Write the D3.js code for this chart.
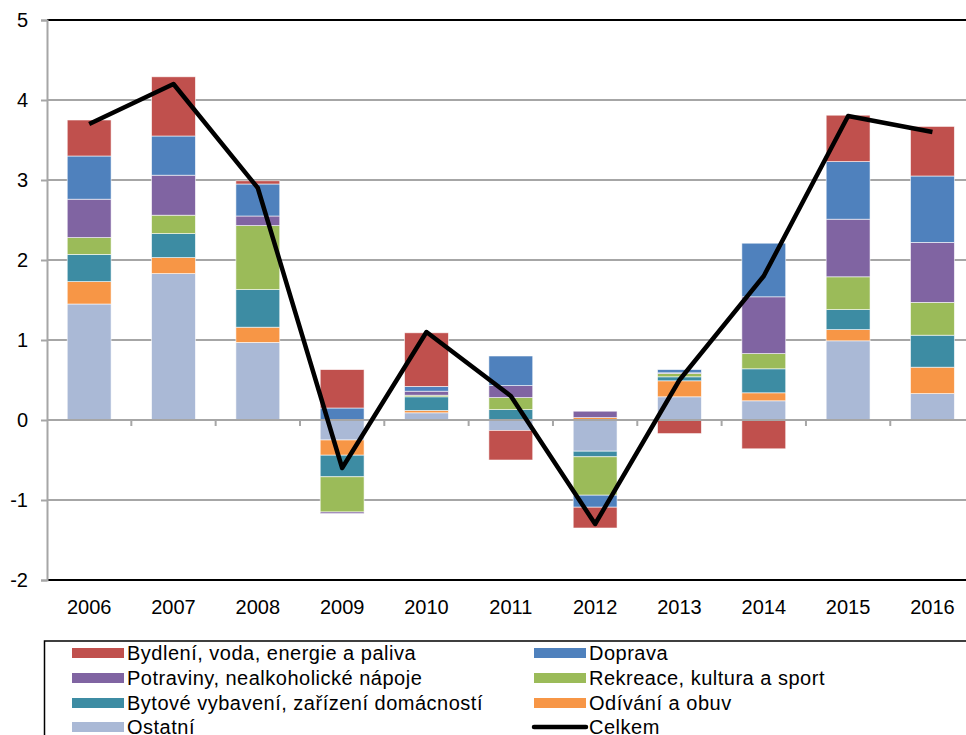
<!DOCTYPE html>
<html>
<head>
<meta charset="utf-8">
<script src="https://cdn.jsdelivr.net/npm/d3@7"></script>
<style>
  body { margin: 0; background: #fff; }
  text { font-family: "Liberation Sans", Arial, sans-serif; fill: #000; }
</style>
</head>
<body>
<div id="chart"></div>
<script>
// data
const years = ["2006", "2007", "2008", "2009", "2010", "2011", "2012", "2013", "2014", "2015", "2016"]
const bydleni   = [0.45, 0.74, 0.04, 0.48, 0.67, -0.37, -0.26, -0.17, -0.36, 0.58, 0.62]
const doprava   = [0.54, 0.49, 0.40, 0.15, 0.06, 0.37, -0.15, 0.04, 0.67, 0.72, 0.83]
const potraviny = [0.48, 0.50, 0.12, -0.02, 0.05, 0.15, 0.08, 0.01, 0.71, 0.72, 0.75]
const rekreace  = [0.21, 0.23, 0.80, -0.44, 0.02, 0.15, -0.48, 0.04, 0.19, 0.41, 0.41]
const bytove    = [0.34, 0.30, 0.47, -0.27, 0.17, 0.13, -0.07, 0.05, 0.30, 0.25, 0.40]
const odivani   = [0.28, 0.20, 0.19, -0.19, 0.03, 0.00, 0.03, 0.20, 0.10, 0.14, 0.33]
const ostatni   = [1.45, 1.83, 0.97, -0.25, 0.09, -0.13, -0.39, 0.29, 0.24, 0.99, 0.33]
const celkem    = [3.7, 4.2, 2.9, -0.6, 1.1, 0.3, -1.3, 0.5, 1.8, 3.8, 3.6]
const yTicks = [-2, -1, 0, 1, 2, 3, 4, 5]

// stack order, bottom up
const series = [
  { key: "Ostatní", values: ostatni, color: "#AAB9D6" },
  { key: "Odívání a obuv", values: odivani, color: "#F79646" },
  { key: "Bytové vybavení, zařízení domácností", values: bytove, color: "#3D8CA3" },
  { key: "Rekreace, kultura a sport", values: rekreace, color: "#9BBB59" },
  { key: "Potraviny, nealkoholické nápoje", values: potraviny, color: "#8064A2" },
  { key: "Doprava", values: doprava, color: "#4F81BD" },
  { key: "Bydlení, voda, energie a paliva", values: bydleni, color: "#C0504D" }
]

const W = 966, H = 735
const PLOT = { LEFT: 47, RIGHT: 974.6, TOP: 20, BOTTOM: 580 }
const FONT = 20

const svg = d3.select("#chart").append("svg")
  .attr("width", W)
  .attr("height", H)

const table = years.map((y, i) => {
  const row = { year: y }
  series.forEach(s => { row[s.key] = s.values[i] })
  return row
})

const stacked = d3.stack()
  .keys(series.map(s => s.key))
  .order(d3.stackOrderNone)
  .offset(d3.stackOffsetDiverging)(table)

const x = d3.scaleBand()
  .domain(years)
  .range([PLOT.LEFT, PLOT.RIGHT])
  .paddingInner(0.48)
  .paddingOuter(0.24)

const y = d3.scaleLinear()
  .domain([-2, 5])
  .range([PLOT.BOTTOM, PLOT.TOP])

// gridlines
svg.append("g")
  .selectAll("line")
  .data(yTicks.filter(t => t !== -2 && t !== 5 && t !== 0))
  .enter().append("line")
  .attr("x1", PLOT.LEFT).attr("x2", W)
  .attr("y1", d => y(d)).attr("y2", d => y(d))
  .attr("stroke", "#A6A6A6")
  .attr("stroke-width", 2)

// top and bottom border
svg.append("g")
  .selectAll("line")
  .data([5, -2])
  .enter().append("line")
  .attr("x1", PLOT.LEFT).attr("x2", W)
  .attr("y1", d => y(d)).attr("y2", d => y(d))
  .attr("stroke", "#000")
  .attr("stroke-width", 2)

// bars
const layers = svg.append("g")
  .selectAll("g")
  .data(stacked)
  .enter().append("g")
  .attr("fill", (d, i) => series[i].color)

layers.selectAll("rect")
  .data(d => d)
  .enter().append("rect")
  .attr("x", d => x(d.data.year))
  .attr("width", x.bandwidth())
  .attr("y", d => y(Math.max(d[0], d[1])))
  .attr("height", d => Math.abs(y(d[0]) - y(d[1])))
  .attr("stroke", "#fff")
  .attr("stroke-opacity", 0.7)
  .attr("stroke-width", 0.8)

// y axis
const leftAxis = d3.axisLeft(y)
  .tickValues(yTicks)
  .tickFormat(d3.format("d"))
  .tickSize(6)
  .tickPadding(13)
const yAxis = svg.append("g")
  .attr("transform", `translate(${PLOT.LEFT}, 0)`)
  .call(leftAxis)
yAxis.select(".domain").attr("stroke", "#A6A6A6").attr("stroke-width", 2)
yAxis.selectAll(".tick line").attr("stroke", "#A6A6A6").attr("stroke-width", 2)
yAxis.selectAll(".tick text")
  .attr("font-size", FONT)
  .attr("font-family", "Liberation Sans, Arial, sans-serif")
  .text(d => d < 0 ? "-" + Math.abs(d) : d)

// zero line with category ticks
const step = x.step()
svg.append("line")
  .attr("x1", PLOT.LEFT).attr("x2", W)
  .attr("y1", y(0)).attr("y2", y(0))
  .attr("stroke", "#A6A6A6")
  .attr("stroke-width", 2)

svg.append("g")
  .selectAll("line")
  .data(years.slice(0, -1))
  .enter().append("line")
  .attr("x1", d => x(d) + x.bandwidth() / 2 + step / 2)
  .attr("x2", d => x(d) + x.bandwidth() / 2 + step / 2)
  .attr("y1", y(0)).attr("y2", y(0) + 6)
  .attr("stroke", "#A6A6A6")
  .attr("stroke-width", 2)

// category labels
svg.append("g")
  .selectAll("text")
  .data(years)
  .enter().append("text")
  .attr("x", d => x(d) + x.bandwidth() / 2)
  .attr("y", 614)
  .attr("text-anchor", "middle")
  .attr("font-size", FONT)
  .text(d => d)

// total line
const line = d3.line()
  .x((d, i) => x(years[i]) + x.bandwidth() / 2)
  .y(d => y(d))

svg.append("path")
  .datum(celkem)
  .attr("d", line)
  .attr("fill", "none")
  .attr("stroke", "#000")
  .attr("stroke-width", 4.5)
  .attr("stroke-linejoin", "round")

// legend
const legend = svg.append("g")
legend.append("rect")
  .attr("x", 44.5).attr("y", 641)
  .attr("width", 1000).attr("height", 200)
  .attr("fill", "none")
  .attr("stroke", "#000")
  .attr("stroke-width", 1.5)

const legendItems = [
  series[6], series[5], series[4], series[3], series[2], series[1], series[0],
  { key: "Celkem", line: true }
]
const colX = [72, 534], rowY = [653, 678, 703, 727]

const item = legend.selectAll(".item")
  .data(legendItems)
  .enter().append("g")
  .attr("class", "item")
  .attr("transform", (d, i) => `translate(${colX[i % 2]}, ${rowY[Math.floor(i / 2)]})`)

item.filter(d => !d.line).append("rect")
  .attr("x", 0).attr("y", -5)
  .attr("width", 52).attr("height", 10)
  .attr("fill", d => d.color)

item.filter(d => d.line).append("line")
  .attr("x1", 0).attr("x2", 52)
  .attr("y1", 0).attr("y2", 0)
  .attr("stroke", "#000")
  .attr("stroke-width", 4.5)
  .attr("stroke-linecap", "round")

item.append("text")
  .attr("x", 55)
  .attr("y", 7)
  .attr("font-size", FONT)
  .attr("letter-spacing", 0.5)
  .text(d => d.key)
</script>
</body>
</html>
